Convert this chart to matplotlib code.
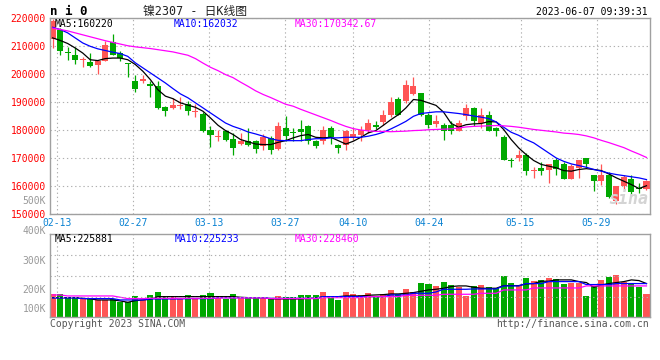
import matplotlib
matplotlib.use('Agg')
import matplotlib.pyplot as plt
import numpy as np
import pandas as pd

plt.rcParams['font.family'] = ['DejaVu Sans Mono', 'Noto Sans CJK SC']

# trading days shown (02-10 is cut at the left edge)
holidays = ['2023-04-05', '2023-05-01', '2023-05-02', '2023-05-03']
dates = [d for d in pd.bdate_range('2023-02-10', '2023-06-07').strftime('%Y-%m-%d') if d not in holidays]
tick_labels = ['02-13', '02-27', '03-13', '03-27', '04-10', '04-24', '05-15', '05-29']

# daily OHLC, in thousands
opens = [212.5, 215.8, 208.1, 206.9, 205.0, 204.4, 203.2, 204.9, 211.5, 207.5,
         203.9, 197.7, 197.7, 196.7, 196.0, 188.2, 188.0, 188.6, 189.4, 186.4,
         185.8, 180.1, 177.6, 179.9, 177.0, 175.1, 176.1, 176.1, 174.3, 177.3,
         173.5, 180.8, 179.4, 180.4, 181.4, 176.3, 176.3, 180.8, 174.7, 174.6,
         177.6, 178.5, 180.2, 182.0, 183.0, 185.6, 191.3, 190.6, 193.0, 193.3,
         185.3, 182.3, 182.0, 181.8, 179.9, 185.0, 188.0, 182.6, 185.4, 180.8,
         177.6, 169.5, 170.0, 171.3, 165.4, 166.6, 166.0, 169.5, 167.8, 162.7,
         166.6, 170.1, 164.2, 161.8, 164.2, 154.9, 160.0, 162.6, 159.5, 159.2]
highs = [219.6, 216.5, 209.9, 209.9, 206.2, 207.6, 204.6, 211.8, 214.5, 208.5,
         204.1, 199.9, 199.9, 197.5, 197.5, 188.6, 191.6, 191.9, 190.4, 189.4,
         186.6, 181.4, 180.2, 180.2, 179.0, 179.0, 180.8, 176.7, 178.5, 177.9,
         183.0, 185.2, 180.8, 183.7, 182.0, 176.7, 181.4, 181.4, 175.1, 180.2,
         180.8, 181.4, 184.1, 183.2, 187.4, 191.8, 191.8, 198.1, 198.9, 193.3,
         186.2, 185.6, 182.6, 183.2, 183.8, 189.4, 188.2, 187.8, 186.8, 181.1,
         178.2, 170.1, 172.8, 171.9, 166.9, 168.6, 168.0, 170.1, 168.7, 167.8,
         169.5, 170.1, 164.2, 167.8, 165.1, 160.0, 164.2, 164.2, 161.2, 162.1]
lows = [209.4, 207.0, 205.2, 203.8, 202.5, 202.6, 200.2, 204.6, 206.8, 204.6,
        199.1, 193.7, 196.9, 191.8, 187.7, 185.0, 187.7, 187.7, 185.6, 184.7,
        179.4, 174.1, 176.3, 176.3, 171.3, 174.7, 174.3, 171.9, 172.8, 171.6,
        173.1, 176.1, 176.1, 176.3, 175.1, 173.5, 175.1, 175.1, 171.9, 173.1,
        176.7, 176.3, 179.0, 180.6, 181.8, 184.7, 185.4, 189.8, 192.7, 185.0,
        180.8, 181.1, 176.7, 178.5, 179.7, 183.8, 181.4, 180.8, 179.7, 178.1,
        169.5, 166.9, 169.0, 164.2, 162.8, 164.2, 161.2, 164.2, 162.5, 162.7,
        163.0, 166.6, 158.2, 160.6, 155.9, 153.5, 158.8, 156.5, 157.6, 158.8]
closes = [219.2, 208.5, 207.5, 205.2, 205.3, 202.9, 204.6, 210.6, 207.0, 205.8,
          203.6, 194.8, 198.3, 195.7, 188.0, 187.0, 189.2, 189.0, 187.0, 186.8,
          179.9, 178.5, 178.0, 176.6, 173.7, 176.1, 174.9, 173.5, 177.6, 173.1,
          181.5, 178.1, 179.0, 179.4, 176.3, 174.3, 180.2, 177.5, 173.7, 179.9,
          178.8, 180.2, 182.6, 181.3, 185.6, 190.1, 185.6, 196.3, 195.7, 185.4,
          182.0, 183.5, 179.9, 179.7, 182.6, 187.8, 183.5, 185.4, 179.9, 179.7,
          169.5, 169.0, 171.3, 165.6, 165.6, 165.6, 167.8, 166.3, 162.5, 167.2,
          169.5, 168.0, 161.8, 164.2, 156.1, 160.0, 163.2, 158.0, 159.0, 161.8]
ma5 = [213.0, 212.1, 211.0, 209.4, 207.6, 205.2, 204.9, 205.6, 205.8, 205.8,
       205.2, 203.5, 201.1, 198.1, 194.5, 192.2, 191.3, 189.8, 189.0, 188.2,
       186.8, 184.4, 181.8, 179.9, 178.5, 176.7, 175.9, 175.1, 174.9, 174.9,
       175.7, 176.3, 177.3, 178.1, 178.5, 177.5, 177.3, 177.5, 176.3, 175.1,
       176.1, 177.5, 179.1, 179.9, 181.8, 183.8, 185.6, 188.0, 191.0, 190.7,
       189.8, 188.9, 186.5, 182.5, 181.1, 182.0, 182.3, 182.4, 183.1, 183.0,
       180.3, 176.7, 173.7, 171.3, 169.2, 167.8, 167.2, 166.6, 165.6, 165.4,
       166.0, 166.3, 166.0, 165.6, 164.4, 163.0, 161.8, 160.6, 159.2, 160.2]
ma10 = [216.8, 216.0, 214.8, 213.0, 211.2, 210.0, 209.1, 208.5, 207.9, 207.4,
        206.4, 204.1, 202.3, 200.5, 198.7, 196.9, 194.9, 193.0, 191.6, 189.8,
        188.0, 186.2, 184.4, 182.6, 181.4, 180.5, 179.4, 178.7, 177.9, 177.0,
        176.4, 176.3, 176.3, 176.3, 176.7, 177.0, 177.0, 177.3, 177.3, 177.5,
        177.5, 177.5, 177.9, 178.5, 179.3, 180.5, 181.8, 183.2, 185.0, 186.0,
        186.3, 186.6, 186.6, 186.3, 186.0, 185.6, 185.1, 184.7, 184.2, 183.0,
        181.1, 179.3, 178.2, 176.7, 175.5, 173.7, 171.9, 170.1, 168.9, 168.0,
        167.4, 166.8, 166.0, 165.4, 164.7, 164.2, 163.8, 163.4, 163.0, 162.4]
ma30 = [216.5, 216.0, 215.5, 214.8, 214.1, 213.4, 212.7, 212.0, 211.4, 210.8,
        210.2, 209.8, 209.5, 209.2, 208.8, 208.4, 208.0, 207.4, 206.8, 205.6,
        204.0, 202.5, 201.3, 199.9, 198.8, 197.2, 195.7, 194.1, 192.8, 191.7,
        190.5, 189.3, 188.6, 187.5, 186.5, 185.5, 184.5, 183.5, 182.4, 181.4,
        180.6, 180.1, 179.8, 179.6, 179.6, 179.5, 179.6, 179.7, 179.9, 180.0,
        180.2, 180.3, 180.4, 180.5, 180.8, 181.2, 181.4, 181.5, 181.6, 181.7,
        181.6, 181.4, 181.1, 180.7, 180.3, 180.0, 179.7, 179.4, 179.0, 178.8,
        178.5, 178.0, 177.3, 176.4, 175.6, 174.7, 173.8, 172.6, 171.5, 170.3]

# volume, in thousands
volumes = [197, 197, 189, 189, 182, 181, 178, 178, 181, 172,
           172, 191, 178, 195, 205, 189, 189, 180, 195, 180,
           195, 202, 184, 181, 197, 184, 184, 184, 184, 180,
           192, 187, 187, 195, 195, 195, 205, 189, 178, 205,
           198, 195, 202, 189, 198, 210, 198, 215, 205, 236,
           232, 225, 240, 229, 223, 192, 225, 229, 221, 218,
           259, 236, 229, 253, 242, 246, 253, 249, 232, 236,
           236, 192, 225, 246, 256, 263, 240, 234, 222, 198]
vma5 = [185.8, 185.8, 185.8, 185.8, 183.6, 181.4, 178.0, 178.0, 178.0, 174.6,
        170.1, 175.7, 178.0, 180.3, 189.2, 189.2, 189.2, 189.2, 189.2, 189.2,
        189.2, 189.2, 189.2, 189.2, 189.2, 187.0, 185.8, 185.8, 185.8, 181.4,
        181.4, 181.4, 181.4, 181.4, 183.6, 183.6, 189.2, 189.2, 189.2, 191.5,
        191.5, 191.5, 193.8, 194.9, 196.0, 198.3, 198.3, 200.5, 202.8, 207.3,
        211.8, 214.1, 217.5, 223.2, 225.4, 225.4, 220.9, 217.5, 217.5, 217.5,
        226.5, 226.5, 226.5, 232.2, 233.4, 241.3, 241.3, 245.8, 245.8, 245.8,
        240.1, 236.8, 220.9, 228.8, 233.4, 236.8, 240.1, 245.8, 243.5, 233.4]
vma10 = [184.7, 184.7, 184.7, 184.7, 182.5, 182.5, 182.5, 182.5, 182.5, 178.0,
         178.0, 178.0, 178.0, 181.4, 181.4, 181.4, 181.4, 181.4, 182.5, 182.5,
         182.5, 182.5, 185.8, 185.8, 185.8, 185.8, 185.8, 185.8, 185.8, 183.6,
         183.6, 183.6, 183.6, 183.6, 183.6, 183.6, 189.2, 189.2, 189.2, 189.2,
         189.2, 189.2, 189.2, 189.2, 189.2, 194.9, 194.9, 194.9, 200.5, 200.5,
         200.5, 205.0, 214.1, 214.1, 214.1, 214.1, 215.2, 215.2, 215.2, 215.2,
         225.4, 225.4, 225.4, 233.4, 233.4, 233.4, 240.1, 240.1, 240.1, 240.1,
         240.1, 230.0, 230.0, 230.0, 230.0, 233.4, 233.4, 233.4, 233.4, 233.4]
vma30 = [194.9, 194.9, 191.5, 191.5, 191.5, 191.5, 191.5, 191.5, 191.5, 187.0,
         182.5, 182.5, 182.5, 183.6, 183.6, 183.6, 183.6, 183.6, 183.6, 183.6,
         183.6, 183.6, 184.7, 184.7, 184.7, 184.7, 184.7, 184.7, 184.7, 182.5,
         182.5, 182.5, 182.5, 182.5, 182.5, 182.5, 185.8, 185.8, 185.8, 185.8,
         185.8, 185.8, 189.2, 189.2, 189.2, 189.2, 189.2, 193.8, 193.8, 193.8,
         193.8, 193.8, 197.2, 197.2, 197.2, 197.2, 197.2, 200.5, 200.5, 200.5,
         211.8, 211.8, 211.8, 211.8, 218.6, 218.6, 218.6, 218.6, 218.6, 218.6,
         218.6, 225.4, 225.4, 225.4, 225.4, 225.4, 225.4, 225.4, 225.4, 225.4]

RED, GREEN = '#ff5555', '#00a800'
GRID, FRAME = '#b0b0b0', '#a0a0a0'
W, H = 660, 360


def box(l, t, r, b):
    return [l / W, 1 - b / H, (r - l) / W, (b - t) / H]


def ftext(x, y, s, **kw):
    fig.text(x / W, 1 - y / H, s, **kw)


o, h, l, c = (np.array(a) * 1000 for a in (opens, highs, lows, closes))
vol = np.array(volumes) * 1000
x = np.arange(len(dates))
colors = np.where(c >= o, RED, GREEN)
ticks = [dates.index('2023-' + t) for t in tick_labels]
# sina draws its date grid on a slightly wider step than the candles
grid_x = [t - 0.4 + 0.0106 * (t - 1) for t in ticks]

fig = plt.figure(figsize=(6.6, 3.6), dpi=100)
ax = fig.add_axes(box(50, 18.3, 649.5, 214.3))
vax = fig.add_axes(box(50, 234.3, 649.5, 317.3))

# candles
ax.vlines(x, l, h, colors=colors, lw=0.9)
ax.bar(x, np.maximum(np.abs(c - o), 300), bottom=np.minimum(o, c),
       width=0.8, color=colors, lw=0)
ax.plot(x, np.array(ma5) * 1000, color='black', lw=0.9)
ax.plot(x, np.array(ma10) * 1000, color='#0000ff', lw=0.9)
ax.plot(x, np.array(ma30) * 1000, color='#ff00ff', lw=0.9)
ax.set_ylim(150000, 220000)
ax.set_yticks(range(150000, 220001, 10000))
ax.set_yticklabels([str(v) for v in range(150000, 220001, 10000)])

# volume
vax.bar(x, vol, width=0.8, color=colors, lw=0)
vax.plot(x, np.array(vma5) * 1000, color='black', lw=0.9)
vax.plot(x, np.array(vma10) * 1000, color='#0000ff', lw=0.9)
vax.plot(x, np.array(vma30) * 1000, color='#ff00ff', lw=0.9)
vlo, vhi = 119300, 400000
vax.set_ylim(vlo, vhi)
vax.set_yticks([])
for f in (0.25, 0.5, 0.75):
    vax.axhline(vlo + f * (vhi - vlo), color=GRID, lw=0.8, ls=(0, (1.2, 2.5)))

for a in (ax, vax):
    a.set_xlim(-0.35, 79.4)
    a.set_xticks(grid_x)
    a.grid(True, color=GRID, lw=0.8, ls=(0, (1.2, 2.5)))
    a.set_axisbelow(True)
    for s in a.spines.values():
        s.set_color(FRAME)
        s.set_linewidth(1)
    a.tick_params(length=0)

ax.set_xticklabels(tick_labels)
ax.tick_params(axis='x', pad=2.5, labelsize=7, labelcolor='#0a82d2')
ax.tick_params(axis='y', pad=3, labelsize=7, labelcolor='#ff0000')
vax.set_xticklabels([])

# volume axis labels
for lab, yy in zip(['400K', '300K', '200K', '100K'], [230.7, 261, 290, 309.3]):
    ftext(46, yy, lab, ha='right', va='center', fontsize=7, color='#999999')
ftext(46, 200.7, '500K', ha='right', va='center', fontsize=7, color='#999999')

# header
ftext(50, 11.5, 'n i 0', ha='left', va='center', fontsize=9, weight='bold', color='black')
ftext(195, 11, '镍2307 - 日K线图', ha='center', va='center', fontsize=8.5, color='#222222')
ftext(648, 12.3, '2023-06-07 09:39:31', ha='right', va='center', fontsize=7, color='black')

# legends
ftext(55, 24, 'MA5:160220', ha='left', va='center', fontsize=7, color='black')
ftext(174, 24, 'MA10:162032', ha='left', va='center', fontsize=7, color='#0000ff')
ftext(295, 24, 'MA30:170342.67', ha='left', va='center', fontsize=7, color='#ff00ff')
ftext(55, 239, 'MA5:225881', ha='left', va='center', fontsize=7, color='black')
ftext(175, 239, 'MA10:225233', ha='left', va='center', fontsize=7, color='#0000ff')
ftext(295, 239, 'MA30:228460', ha='left', va='center', fontsize=7, color='#ff00ff')

# footer and watermark
ftext(50, 324, 'Copyright 2023 SINA.COM', ha='left', va='center', fontsize=7, color='#555555')
ftext(649, 324, 'http://finance.sina.com.cn', ha='right', va='center', fontsize=7, color='#555555')
ftext(648, 199, 'sina', ha='right', va='center', fontsize=12, style='italic',
      weight='bold', color='#d4d4d4')

fig.savefig('out.png', dpi=100)
